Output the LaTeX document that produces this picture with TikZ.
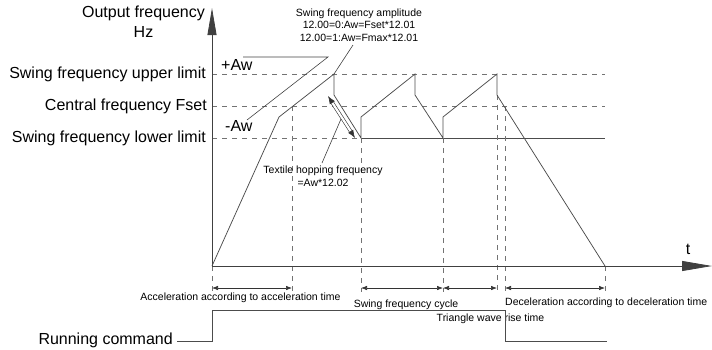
\documentclass[tikz,border=0pt]{standalone}
\usepackage{fontspec}
\setmainfont{Liberation Sans}
\usetikzlibrary{arrows.meta}
\begin{document}
\begin{tikzpicture}[x=1pt,y=-1pt,
  big/.style={font=\fontsize{16}{18}\selectfont, inner sep=0pt},
  small/.style={font=\fontsize{10.5}{12.5}\selectfont, inner sep=0pt, align=center},
  axis/.style={draw=black!75, line width=0.8pt},
  curve/.style={draw=black!70, line width=0.75pt},
  guide/.style={draw=black!55, line width=0.75pt, dash pattern=on 5pt off 5pt},
  leader/.style={draw=black!75, line width=0.6pt},
  dimarrow/.style={draw=black!80, line width=0.6pt, {Latex[length=6pt,width=4.5pt]}-{Latex[length=6pt,width=4.5pt]}}]
\useasboundingbox (0,0) rectangle (712,349);
% key points
\coordinate (O) at (212,266);
\coordinate (A1) at (279,117);
\coordinate (P1) at (334,74);
\coordinate (D1) at (334,95);
\coordinate (L1) at (361,138);
\coordinate (J1) at (361,117);
\coordinate (P2) at (415,74);
\coordinate (D2) at (415,95);
\coordinate (L2) at (443,138);
\coordinate (J2) at (443,117);
\coordinate (P3) at (497,74);
\coordinate (D3) at (497,95);
\coordinate (E) at (605,266);
\coordinate (ytop) at (212,8);
\coordinate (xend) at (712,266);
% guide lines
\draw[guide] (212,74) -- (605,74);
\draw[guide] (212,106) -- (605,106);
\draw[guide] (212,138) -- (361,138);
\draw[curve] (L1) -- (605,138);
\draw[guide] (212,266) -- (212,292);
\draw[guide] (292,106) -- (292,292);
\draw[guide] (361,138) -- (361,292);
\draw[guide] (443,138) -- (443,292);
\draw[guide] (497,95) -- (497,292);
\draw[guide] (505,106) -- (505,292);
\draw[guide] (605,266) -- (605,292);
% axes
\draw[axis, -{Triangle[length=27pt,width=9pt]}] (O) -- (ytop);
\draw[axis, -{Triangle[length=30pt,width=10pt]}] (O) -- (xend);
\node[big] (t) at (688,249) {t};
% output curve
\draw[curve] (O) -- (A1) -- (P1) -- (D1) -- (L1) -- (J1) -- (P2) -- (D2) -- (L2) -- (J2) -- (P3) -- (D3) -- (E);
% y labels
\node[big] (yl1) at (143.5,13) {Output frequency};
\node[big] (yl2) at (143.5,32) {Hz};
\node[big, anchor=east] (up) at (206,74) {Swing frequency upper limit};
\node[big, anchor=east] (cf) at (207,106) {Central frequency Fset};
\node[big, anchor=east] (lo) at (206,138) {Swing frequency lower limit};
% Aw marks
\node[big, anchor=west] (paw) at (221,65) {+Aw};
\node[big, anchor=west] (maw) at (225,126) {-Aw};
\coordinate (aw1) at (243,57);
\coordinate (aw2) at (328,57);
\coordinate (aw3) at (247,120);
\draw[leader] (aw1) -- (aw2) -- (aw3);
% amplitude annotation
\node[small] (amp) at (359,25) {Swing frequency amplitude\\12.00=0:Aw=Fset*12.01\\12.00=1:Aw=Fmax*12.01};
\coordinate (ampl) at (353,45);
\draw[leader] (ampl) -- (P1);
% textile hopping
\coordinate (h1) at (328,96);
\coordinate (h2) at (355,138);
\draw[draw=black!80, line width=0.6pt, double=white, double distance=2.2pt, {Latex[length=8pt,width=6pt]}-{Latex[length=8pt,width=6pt]}] (h1) -- (h2);
\node[small] (hop) at (323,176) {Textile hopping frequency\\=Aw*12.02};
\coordinate (hl) at (341,119);
\draw[leader] (322,163) -- (hl);
% dimension arrows
\coordinate (d0) at (212,288);
\coordinate (d1) at (292,288);
\coordinate (d2) at (361,288);
\coordinate (d3) at (443,288);
\coordinate (d4) at (497,288);
\coordinate (d5) at (505,288);
\coordinate (d6) at (605,288);
\draw[dimarrow] (d0) -- (d1);
\draw[dimarrow] (d2) -- (d3);
\draw[dimarrow] (d3) -- (d4);
\draw[dimarrow] (d5) -- (d6);
\node[small] (acc) at (240.5,298) {Acceleration according to acceleration time};
\node[small] (cyc) at (406,305) {Swing frequency cycle};
\node[small] (tri) at (490.5,319) {Triangle wave rise time};
\node[small, anchor=west] (dec) at (505,303) {Deceleration according to deceleration time};
% running command
\node[big, anchor=east] (run) at (173,340) {Running command};
\coordinate (r1) at (212,341);
\coordinate (r2) at (212,310);
\coordinate (r3) at (505,310);
\coordinate (r4) at (505,341);
\coordinate (r5) at (607,341);
\draw[curve] (run.east) ++(4pt,0) coordinate (r0);
\draw[curve] (r0 |- r1) -- (r1) -- (r2) -- (r3) -- (r4) -- (r5);
\end{tikzpicture}
\end{document}
